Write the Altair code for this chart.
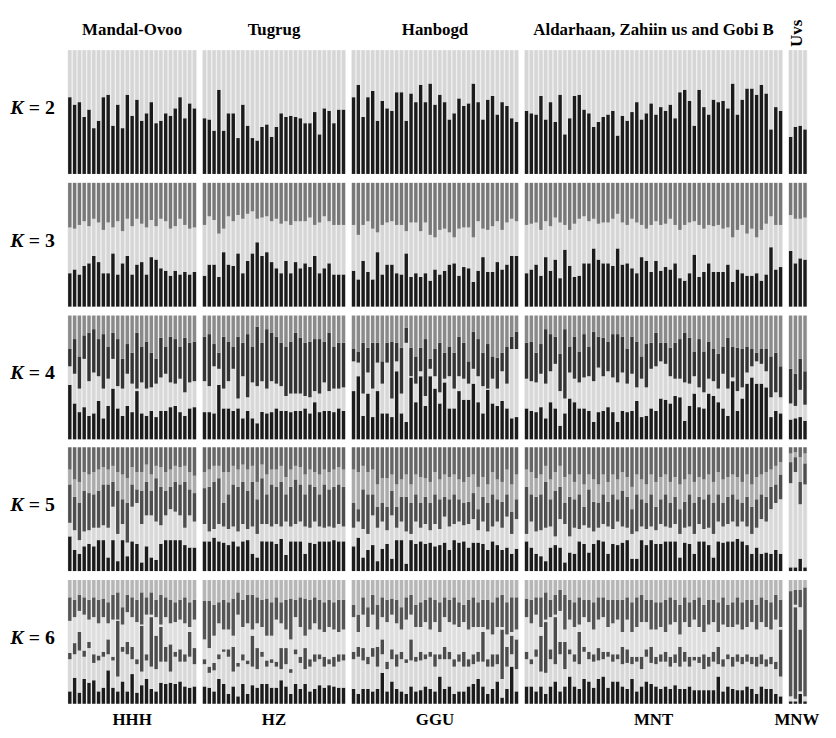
import altair as alt
import pandas as pd

# ---------------- labels ----------------
pop_titles = ["Mandal-Ovoo", "Tugrug", "Hanbogd", "Aldarhaan, Zahiin us and Gobi B", "Uvs"]
pop_codes = ["HHH", "HZ", "GGU", "MNT", "MNW"]
k_values = [2, 3, 4, 5, 6]

# ---------------- K = 2 : black share (%) ----------------
k2_mandal = [62,56,58,46,52,37,43,62,64,39,56,37,64,47,60,43,49,58,41,43,49,47,53,62,45,57,53]
k2_tugrug = [45,44,35,68,35,49,49,29,56,39,29,27,38,40,30,38,49,46,47,46,45,41,41,50,32,53,51,41,52,52]
k2_hanbogd = [62,72,46,62,67,43,59,53,51,66,66,43,65,58,72,58,73,56,64,58,44,49,61,55,57,73,58,44,60,63,48,58,55,45,42]
k2_aldar = [51,49,48,63,44,58,42,64,32,45,63,64,52,49,38,42,46,48,51,31,47,43,50,58,44,
            49,57,48,54,51,56,45,66,68,59,39,68,54,48,60,58,59,53,73,48,60,69,69,64,72,65,36,54,51]
k2_uvs = [30,38,39,36]

# ---------------- K = 3 : black (bottom) and dark grey (top) shares (%) ----------------
k3_mandal_black = [27,30,26,33,35,41,36,27,27,43,26,35,41,26,34,36,26,40,38,31,29,25,29,26,28,26,28]
k3_mandal_top = [36,37,34,31,35,29,32,38,32,36,31,39,29,35,29,33,36,30,35,29,31,37,35,29,34,37,36]
k3_tugrug_black = [25,34,34,24,44,34,33,43,27,37,43,52,41,44,36,31,27,37,27,36,31,35,32,41,27,31,35,26,26,26]
k3_tugrug_top = [34,27,30,41,37,27,31,26,29,25,23,29,28,27,31,29,33,31,34,31,31,31,28,34,32,27,31,34,34,34]
k3_hanbogd_black = [29,22,37,28,22,44,26,34,34,27,26,43,24,27,24,27,21,30,26,29,34,35,25,32,31,20,29,40,28,28,36,30,34,41,41]
k3_hanbogd_top = [34,42,34,31,37,40,34,32,31,34,34,39,32,32,39,32,42,44,38,37,40,44,37,36,36,44,31,37,38,35,31,38,32,29,31]
k3_aldar_black = [27,30,34,25,40,29,38,23,46,33,24,25,35,35,47,38,35,35,33,47,34,35,31,27,40,37,28,37,29,32,
                  30,35,23,21,27,42,24,28,35,28,28,28,34,20,30,27,25,25,27,21,26,48,30,32]
k3_aldar_top = [34,33,32,38,31,35,28,32,34,38,33,29,27,31,29,33,32,32,29,25,32,34,29,32,34,37,34,31,34,33,
                29,34,38,34,32,31,34,37,34,35,34,37,36,44,38,34,41,37,44,38,33,27,34,34]
k3_uvs_black = [45,35,39,38]
k3_uvs_top = [26,29,29,28]

# ---------------- K = 4 : cumulative membership from bottom (%) ----------------
k4_mandal = [(44,59,73),(29,53,81),(22,41,67),(26,65,84),(19,47,86),(21,54,89),(31,51,81),(17,41,85),(27,49,75),
             (41,65,86),(25,43,81),(19,41,65),(27,53,77),(22,45,70),(39,41,86),(21,46,75),(19,41,79),(23,42,70),
             (18,45,65),(23,50,82),(23,53,75),(26,46,83),(27,45,81),(22,49,75),(19,38,82),(25,46,78),(26,47,79)]
k4_tugrug = [(22,47,83),(22,43,85),(21,59,77),(44,57,70),(25,41,83),(25,47,79),(23,57,75),(25,33,83),(17,51,78),
             (23,34,85),(17,46,75),(13,43,91),(22,47,78),(21,41,89),(22,47,86),(25,45,83),(23,43,78),(23,35,75),
             (22,37,79),(23,37,86),(23,37,82),(25,35,78),(21,34,79),(30,39,81),(22,37,81),(23,46,79),(23,39,86),
             (22,41,75),(25,41,78),(23,42,78)]
k4_hanbogd = [(39,63,73),(51,62,71),(19,37,78),(37,54,74),(18,41,78),(39,62,78),(21,45,63),(21,62,78),(18,33,79),
              (55,63,78),(21,37,74),(14,78,90),(50,51,74),(30,45,67),(51,55,74),(27,35,81),(51,57,65),(41,51,73),
              (29,38,78),(46,49,70),(25,51,75),(25,41,70),
              (39,51,83),(32,49,78),(32,45,63),(45,57,87),(30,51,81),(21,43,70),(40,41,77),(29,49,67),(27,41,66),
              (31,55,70),(25,45,75),(17,73,83),(18,73,87)]
k4_aldar = [(25,49,78),(23,47,79),(22,46,70),(26,53,77),(17,45,89),(30,55,85),(25,61,83),(11,39,69),(21,33,89),
            (33,54,75),(30,49,83),(25,46,71),(25,50,85),(23,51,75),(14,47,87),(22,58,83),(23,51,82),(26,55,79),
            (22,50,85),(14,46,85),(23,54,83),(22,45,73),(23,53,83),(31,42,79),(18,49,67),(19,42,77),(25,57,78),
            (23,59,86),(33,63,78),(32,61,78),(29,51,74),(35,49,78),(34,49,81),(15,46,86),(27,45,82),(37,51,71),
            (26,42,81),(25,38,71),(37,49,79),(35,47,73),(30,41,69),(25,53,75),(19,41,82),(47,50,75),(23,39,74),
            (33,42,73),(45,54,75),(50,59,73),(45,63,70),(45,61,73),(42,55,73),(18,34,67),(23,38,70),(21,34,59)]
k4_uvs = [(16,29,57),(17,27,53),(18,40,65),(15,28,55)]

# ---------------- K = 5 : cumulative membership from bottom (%) ----------------
k5_mandal = [(28,39,70,82),(17,33,60,74),(14,25,55,72),(20,32,65,80),(22,33,63,78),(20,35,62,80),(25,35,65,82),
             (25,37,70,84),(11,35,70,82),(25,52,72,85),(8,30,65,80),(25,38,58,78),(12,23,55,75),(24,52,70,84),
             (22,55,66,80),(7,38,65,80),(20,45,72,86),(11,45,65,78),(9,40,75,85),(22,37,68,84),(25,45,65,80),
             (25,50,68,82),(25,48,72,85),(25,45,70,84),(21,35,72,85),(19,45,66,80),(19,40,63,77)]
k5_tugrug = [(24,38,67,80),(24,32,68,82),(27,34,72,85),(24,38,75,85),(23,36,55,80),(21,34,62,80),(24,36,70,85),
             (20,32,68,82),(24,38,72,86),(25,34,65,82),(14,36,72,85),(11,30,58,72),(24,38,75,86),(24,38,62,78),
             (24,36,70,82),(22,38,68,82),(26,36,72,85),(13,40,62,76),(24,36,68,82),(24,38,74,85),(24,40,70,84),
             (14,36,62,78),(23,35,70,82),(22,40,68,80),(24,36,62,78),(24,35,70,82),(24,36,66,80),(25,35,68,82),
             (24,38,70,84),(24,36,68,82)]
k5_hanbogd = [(20,35,55,82),(27,40,50,80),(11,34,66,85),(17,30,62,80),(21,45,62,82),(8,35,52,70),(18,40,55,75),
              (22,33,52,75),(10,45,65,78),(25,35,52,70),(25,40,60,74),(6,32,60,78),(25,30,55,70),(22,40,62,78),
              (24,35,55,76),(22,38,60,75),(23,33,55,72),(20,38,62,80),(21,34,58,74),(23,44,60,78),(17,36,58,76),
              (25,38,62,78),(23,40,58,74),(24,37,55,72),(19,38,56,76),(23,42,63,78),(23,33,50,68),(22,40,60,76),
              (17,32,55,70),(24,36,62,80),(21,40,58,74),(17,35,56,72),(19,44,62,82),(14,30,48,70),(18,42,58,78)]
k5_aldar = [(24,30,68,82),(19,40,62,80),(14,32,60,75),(12,33,62,78),(8,35,72,85),(19,36,58,74),(21,28,65,80),
            (19,42,68,85),(7,38,55,76),(15,28,60,78),(14,35,58,72),(24,34,62,78),(22,37,52,70),(15,35,66,78),
            (22,32,56,74),(25,35,55,70),(24,38,62,78),(14,36,56,72),(22,34,62,78),(21,40,58,74),(23,36,65,80),
            (25,35,60,76),(10,30,50,68),(10,32,62,78),(25,36,58,74),(21,34,55,70),(25,36,62,78),(22,33,52,72),
            (22,38,58,76),(24,36,62,78),(24,35,55,72),(24,38,60,76),(11,30,50,70),(23,35,56,74),(22,36,62,78),
            (14,30,55,72),(24,38,60,76),(24,34,58,74),(21,35,62,78),(11,30,55,72),(24,40,62,80),(23,36,55,74),
            (24,38,60,76),(24,40,62,78),(26,36,58,76),(24,40,55,72),(21,36,60,78),(14,30,52,70),(19,35,58,76),
            (14,42,62,78),(15,40,60,80),(14,50,68,82),(17,55,70,85),(14,58,78,88)]
k5_uvs = [(3,71,88,95),(3,80,92,96),(10,54,72,92),(3,70,87,95)]

# ---------------- K = 6 : cumulative membership from bottom (%) ----------------
k6_mandal = [(10,36,41,67,86),(21,40,49,70,84),(9,43,58,75,88),(20,38,43,72,86),(17,45,50,68,84),(19,33,40,70,86),
             (10,35,39,65,84),(13,38,42,70,85),(27,40,52,65,82),(13,35,38,68,88),(10,22,67,68,90),(18,42,46,64,78),
             (10,40,50,74,88),(24,36,46,70,86),(9,32,36,66,84),(15,26,63,64,90),(20,35,40,72,86),(12,30,70,72,90),
             (10,28,55,70,84),(17,34,62,64,88),(16,34,46,70,86),(17,26,48,65,84),(16,38,42,66,82),(18,34,44,68,84),
             (14,34,40,65,86),(13,38,58,62,82),(14,32,45,68,84)]
k6_tugrug = [(14,32,36,52,83),(13,25,30,45,83),(10,27,33,55,80),(20,36,40,65,82),(16,42,44,60,84),(8,38,44,60,82),
             (14,26,46,55,85),(6,30,33,72,90),(16,35,40,62,84),(8,32,35,65,88),(15,30,55,60,88),(13,28,45,65,86),
             (16,38,42,62,84),(16,30,35,55,85),(13,33,36,55,82),(13,30,34,68,86),(19,28,45,65,82),(14,32,45,60,84),
             (8,25,28,52,85),(16,40,44,70,84),(12,33,38,62,86),(16,28,45,55,85),(10,30,36,60,84),(12,34,40,65,86),
             (15,36,40,60,84),(13,30,38,58,82),(15,32,36,62,84),(14,30,38,60,82),(13,34,40,58,84),(13,35,40,60,84)]
k6_hanbogd = [(12,36,42,70,80),(8,38,46,58,72),(12,35,45,72,86),(12,32,38,62,78),(10,38,45,72,88),(12,30,46,60,80),
              (25,40,52,70,86),(10,28,34,66,84),(18,36,44,72,85),(12,30,40,65,84),(10,36,42,60,78),(8,33,36,68,86),
              (14,35,52,72,88),(10,34,38,62,80),(11,35,42,62,82),(14,36,40,66,84),(12,38,42,60,86),(10,30,40,66,84),
              (22,36,40,58,82),(12,36,46,70,86),(14,36,42,66,84),(8,30,36,64,86),(10,34,40,62,82),(10,30,42,66,80),
              (14,30,36,60,84),(16,32,40,62,86),(20,34,42,62,82),(14,34,58,62,84),(8,30,36,60,84),(12,30,40,56,82),
              (18,32,40,62,86),(5,20,60,62,88),(12,30,46,56,82),(30,40,55,58,86),(10,28,52,60,86)]
k6_aldar = [(14,36,42,70,85),(14,32,36,65,84),(10,38,44,72,86),(14,26,55,62,86),(8,25,66,68,90),(14,36,44,70,84),
            (18,32,70,72,88),(10,40,50,75,92),(14,28,50,60,88),(22,40,44,68,84),(14,34,40,62,82),(12,32,58,64,86),
            (20,42,46,70,84),(18,36,42,66,84),(13,34,40,60,82),(20,35,45,68,86),(22,36,42,70,86),(13,38,42,62,84),
            (18,34,40,65,84),(18,36,40,68,84),(14,32,46,58,84),(12,33,44,68,86),(20,32,38,58,82),(10,34,38,62,86),
            (14,28,38,66,88),(18,38,44,66,84),(16,33,46,60,84),(14,32,38,60,82),(12,34,40,62,82),(14,34,42,58,84),
            (12,30,38,64,86),(15,33,40,66,84),(12,30,46,56,80),(12,34,42,66,86),(14,30,38,62,82),(11,35,38,68,84),
            (11,33,38,62,86),(11,28,40,58,80),(11,30,38,64,84),(11,34,42,66,84),(22,32,46,58,82),(10,30,36,64,86),
            (14,36,40,62,80),(12,30,38,62,82),(11,34,40,64,86),(11,32,38,60,82),(14,34,40,62,84),(12,32,38,66,84),
            (8,30,38,60,80),(14,32,40,66,86),(12,30,36,62,84),(12,32,38,60,82),(8,28,34,68,88),(6,22,60,62,84)]
k6_uvs = [(2,4,4,6,91),(2,4,78,80,92),(8,10,60,78,92),(2,4,4,6,94)]

# ---------------- assemble cumulative boundaries ----------------
def from_k2(lst):
    return [(v,) for v in lst]

def from_k3(black, top):
    return [(b, 100 - t) for b, t in zip(black, top)]

cum = {
    2: [from_k2(k2_mandal), from_k2(k2_tugrug), from_k2(k2_hanbogd), from_k2(k2_aldar), from_k2(k2_uvs)],
    3: [from_k3(k3_mandal_black, k3_mandal_top), from_k3(k3_tugrug_black, k3_tugrug_top),
        from_k3(k3_hanbogd_black, k3_hanbogd_top), from_k3(k3_aldar_black, k3_aldar_top),
        from_k3(k3_uvs_black, k3_uvs_top)],
    4: [k4_mandal, k4_tugrug, k4_hanbogd, k4_aldar, k4_uvs],
    5: [k5_mandal, k5_tugrug, k5_hanbogd, k5_aldar, k5_uvs],
    6: [k6_mandal, k6_tugrug, k6_hanbogd, k6_aldar, k6_uvs],
}

palettes = {
    2: ["#1b1b1b", "#d6d6d6"],
    3: ["#1b1b1b", "#d6d6d6", "#787878"],
    4: ["#1b1b1b", "#d8d8d8", "#343434", "#8a8a8a"],
    5: ["#1b1b1b", "#d8d8d8", "#4e4e4e", "#ababab", "#666666"],
    6: ["#1b1b1b", "#d8d8d8", "#4c4c4c", "#dedede", "#555555", "#b6b6b6"],
}

# ---------------- layout (pixel-like units of the plot area) ----------------
W, H = 820, 722
X0, STEP, PGAP, INSET = 60.0, 4.84, 5.3, 0.7
ROW_TOP = [39, 173, 307, 440, 574]
ROW_H = 125

counts = [len(v) for v in cum[2]]
starts = []
x = X0
for n in counts:
    starts.append(x)
    x += n * STEP + PGAP
ends = [s + n * STEP for s, n in zip(starts, counts)]

rects, bgs = [], []
for r, k in enumerate(k_values):
    top = ROW_TOP[r]
    for p in range(5):
        bgs.append(dict(x=starts[p], x2=ends[p], y=top, y2=top + ROW_H))
        for i, bounds in enumerate(cum[k][p]):
            b = [0] + list(bounds) + [100]
            for j in range(len(b) - 1):
                lo, hi = b[j], b[j + 1]
                if hi <= lo:
                    continue
                rects.append(dict(
                    x=starts[p] + i * STEP + INSET,
                    x2=starts[p] + (i + 1) * STEP - INSET,
                    y=top + ROW_H * (1 - lo / 100),
                    y2=top + ROW_H * (1 - hi / 100),
                    c=palettes[k][j]))

df_r = pd.DataFrame(rects)
df_bg = pd.DataFrame(bgs)

xs = alt.Scale(domain=[0, W], nice=False, zero=False)
ys = alt.Scale(domain=[0, H], nice=False, zero=False, reverse=True)

bg = alt.Chart(df_bg).mark_rect(color="#f0f0f0", strokeWidth=0).encode(
    x=alt.X("x:Q", scale=xs, axis=None), x2="x2:Q",
    y=alt.Y("y:Q", scale=ys, axis=None), y2="y2:Q")

bars = alt.Chart(df_r).mark_rect(strokeWidth=0).encode(
    x=alt.X("x:Q", scale=xs, axis=None), x2="x2:Q",
    y=alt.Y("y:Q", scale=ys, axis=None), y2="y2:Q",
    color=alt.Color("c:N", scale=None))

centers = [(s + e) / 2 for s, e in zip(starts, ends)]
df_title = pd.DataFrame(dict(x=centers[:4], y=[19] * 4, t=pop_titles[:4]))
df_uvs = pd.DataFrame(dict(x=[centers[4] - 1], y=[22], t=[pop_titles[4]]))
df_code = pd.DataFrame(dict(x=centers[:4] + [centers[4] - 1], y=[715] * 5, t=pop_codes))
df_k = pd.DataFrame(dict(x=[9] * 5, y=[t + ROW_H / 2 - 4 for t in ROW_TOP], t=["K"] * 5))
df_eq = pd.DataFrame(dict(x=[21] * 5, y=[t + ROW_H / 2 - 4 for t in ROW_TOP], t=[f"= {k}" for k in k_values]))

def txt(df, **kw):
    base = dict(font="Liberation Serif", fontWeight="bold", fontSize=17, color="black",
                align="center", baseline="middle")
    base.update(kw)
    return alt.Chart(df).mark_text(**base).encode(
        x=alt.X("x:Q", scale=xs, axis=None),
        y=alt.Y("y:Q", scale=ys, axis=None),
        text="t:N")

chart = alt.layer(
    bg, bars,
    txt(df_title),
    txt(df_uvs, angle=270),
    txt(df_code),
    txt(df_k, fontSize=20, fontStyle="italic"),
    txt(df_eq, fontSize=20, align="left"),
).properties(
    width=W, height=H,
    autosize=alt.AutoSizeParams(type="none"),
    padding={"left": 0, "top": 0, "right": 8, "bottom": 8},
).configure_view(stroke=None)

chart.save("out.html", embed_options={"renderer": "svg", "actions": False})
